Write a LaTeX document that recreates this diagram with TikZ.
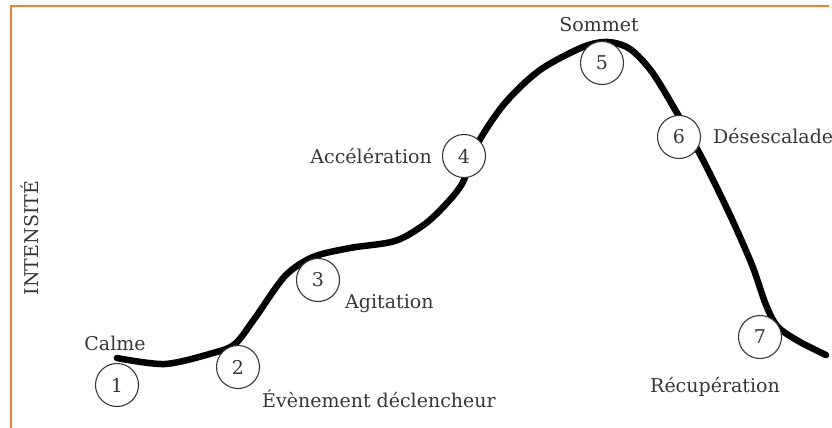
\documentclass[tikz,border=0pt]{standalone}
\usepackage{fontspec}
\setmainfont{DejaVu Serif}
\definecolor{cadre}{RGB}{238,128,52}
\definecolor{texte}{RGB}{55,55,55}

\begin{document}
\begin{tikzpicture}[x=1pt,y=-1pt]

      \useasboundingbox (0,0) rectangle (832,428);
      \draw[cadre,line width=2.5pt] (829,6) -- (11,6) -- (11,428);

      % la courbe d'intensite
      \draw[line width=6.5pt,line cap=round,line join=round]
        plot[smooth,tension=0.5] coordinates {
          (117,358) (165,364) (213,353) (235,344) (255,318) (285,276)
          (313,257) (350,248) (395,241) (425,224) (447,203) (463,182)
          (478,143) (505,103) (540,70) (583,47) (608,42) (630,49)
          (652,72) (677,113) (703,160) (730,215) (752,265) (766,305)
          (778,327) (800,342) (826,355)};

      \begin{scope}[every node/.style={circle,draw=texte,line width=1.1pt,fill=white,
          minimum size=43pt,inner sep=0pt,text=texte,font=\fontsize{19}{22}\selectfont}]
        \node (1)  at (117,385)  {1};
        \node (2)  at (238,367)  {2};
        \node (3)  at (318,280)  {3};
        \node (4)  at (464,156)  {4};
        \node (5)  at (602,63)   {5};
        \node (6)  at (679,137)  {6};
        \node (7)  at (760,337)  {7};
      \end{scope}

      \begin{scope}[every node/.style={inner sep=0pt,text=texte,font=\fontsize{19}{22}\selectfont}]
        \node[anchor=base]      (calme)  at (115,350) {Calme};
        \node[anchor=base west] (evt)    at (262,407) {Évènement déclencheur};
        \node[anchor=base west] (agit)   at (345,308) {Agitation};
        \node[anchor=base east] (accel)  at (432,163) {Accélération};
        \node[anchor=base]      (sommet) at (599,32)  {Sommet};
        \node[anchor=base west] (desc)   at (713,143) {Désescalade};
        \node[anchor=base]      (recup)  at (715,392) {Récupération};
        \node[anchor=base,rotate=90] (axe) at (38,238) {INTENSITÉ};
      \end{scope}

\end{tikzpicture}
\end{document}
